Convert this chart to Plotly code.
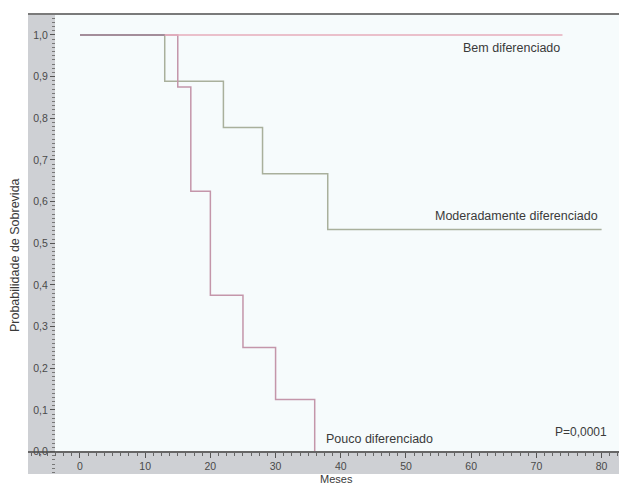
import plotly.graph_objects as go

# ---- data ----
bem_t = [0, 74]
bem_s = [1.0, 1.0]

mod_t = [0, 13, 22, 28, 38, 80]
mod_s = [1.0, 0.889, 0.778, 0.667, 0.533, 0.533]

pouco_t = [0, 15, 17, 20, 25, 30, 36]
pouco_s = [1.0, 0.875, 0.625, 0.375, 0.25, 0.125, 0.0]

y_ticks = [0.0, 0.1, 0.2, 0.3, 0.4, 0.5, 0.6, 0.7, 0.8, 0.9, 1.0]
y_labels = ["0,0", "0,1", "0,2", "0,3", "0,4", "0,5", "0,6", "0,7", "0,8", "0,9", "1,0"]
x_ticks = [0, 10, 20, 30, 40, 50, 60, 70, 80]

FONT = "Liberation Sans, Arial, sans-serif"
BAND = "rgb(206,208,212)"      # grey axis bands (plot background)
INNER = "rgb(246,251,252)"     # light inner plotting field

# axis ranges: the grey bands are part of the plotting area
X_RANGE = [-7.97, 82.67]
Y_RANGE = [-0.054, 1.0504]
FIELD_X0 = -3.83               # left edge of the light field (y axis position)
FIELD_Y0 = -0.001              # bottom edge of the light field (x axis position)

fig = go.Figure()
# light inner field
fig.add_trace(go.Scatter(
    x=[FIELD_X0, X_RANGE[1], X_RANGE[1], FIELD_X0, FIELD_X0],
    y=[FIELD_Y0, FIELD_Y0, Y_RANGE[1], Y_RANGE[1], FIELD_Y0],
    mode="lines", fill="toself", fillcolor=INNER, line=dict(width=0),
    hoverinfo="skip"))
fig.add_trace(go.Scatter(x=mod_t, y=mod_s, mode="lines", line_shape="hv",
                         line=dict(color="#a9b09c", width=1.5), name="Moderadamente diferenciado"))
fig.add_trace(go.Scatter(x=pouco_t, y=pouco_s, mode="lines", line_shape="hv",
                         line=dict(color="#c496aa", width=1.5), name="Pouco diferenciado"))
fig.add_trace(go.Scatter(x=bem_t, y=bem_s, mode="lines", line_shape="hv",
                         line=dict(color="#e6adbb", width=1.5), name="Bem diferenciado"))
# darker overlap at the start (all three groups at 1.0)
fig.add_trace(go.Scatter(x=[0, 13], y=[1.0, 1.0], mode="lines",
                         line=dict(color="#8f8590", width=1.5), hoverinfo="skip"))

shapes = [
    # top frame line
    dict(type="line", xref="paper", yref="paper", x0=0, x1=1, y0=1, y1=1,
         line=dict(color="#7a7a7a", width=2)),
]

ann_font = dict(family=FONT, size=12.5, color="#3a3a3a")
annotations = [
    dict(x=74, y=0.969, xref="x", yref="y", text="Bem diferenciado", showarrow=False,
         xanchor="right", yanchor="middle", font=ann_font),
    dict(x=79.8, y=0.565, xref="x", yref="y", text="Moderadamente diferenciado", showarrow=False,
         xanchor="right", yanchor="middle", font=ann_font),
    dict(x=37.4, y=0.030, xref="x", yref="y", text="Pouco diferenciado", showarrow=False,
         xanchor="left", yanchor="middle", font=ann_font),
    dict(x=81.2, y=0.047, xref="x", yref="y", text="P=0,0001", showarrow=False,
         xanchor="right", yanchor="middle", font=dict(family=FONT, size=12, color="#3a3a3a")),
    dict(x=-0.022, y=0.476, xref="paper", yref="paper", text="Probabilidade de Sobrevida",
         showarrow=False, textangle=-90, xanchor="center", yanchor="middle", font=ann_font),
    dict(x=39.3, y=-0.0109, xref="x", yref="paper", text="Meses", showarrow=False,
         xanchor="center", yanchor="middle", font=dict(family=FONT, size=11, color="#3a3a3a")),
]

fig.update_layout(
    width=619, height=484, autosize=False,
    margin=dict(l=28, r=0, t=14, b=10, pad=0),
    paper_bgcolor="white", plot_bgcolor=BAND,
    showlegend=False,
    shapes=shapes, annotations=annotations,
    font=dict(family=FONT, size=10.5, color="#4a4a4a"),
)
fig.update_xaxes(
    range=X_RANGE, tickvals=x_ticks, anchor="free", position=22 / 460,
    ticks="outside", ticklen=5, tickwidth=1, tickcolor="#555555",
    showline=True, linecolor="#666666", linewidth=1.5,
    showgrid=False, zeroline=False, tickfont=dict(family=FONT, size=10.5, color="#4a4a4a"),
    minor=dict(ticks="outside", ticklen=3, dtick=1.25, tick0=0, tickcolor="#666666", showgrid=False),
)
fig.update_yaxes(
    range=Y_RANGE, tickvals=y_ticks, ticktext=y_labels, anchor="free", position=27 / 591,
    ticks="outside", ticklen=5, tickwidth=1, tickcolor="#555555",
    showline=False, showgrid=False, zeroline=False,
    tickfont=dict(family=FONT, size=10.5, color="#4a4a4a"),
    minor=dict(ticks="outside", ticklen=3, dtick=0.01, tick0=0, tickcolor="#777777", showgrid=False),
)

fig.write_html("out.html")
